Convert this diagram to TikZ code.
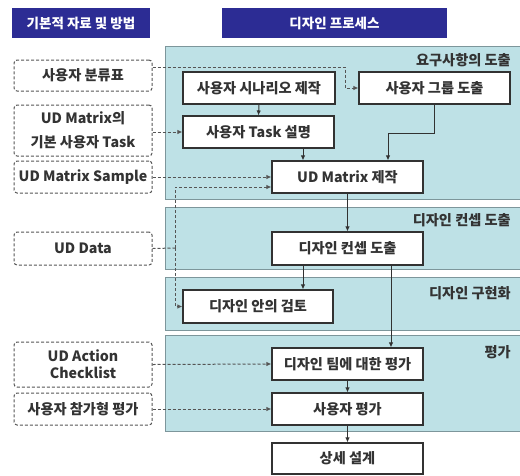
\documentclass[tikz,border=0pt]{standalone}
\usepackage{fontspec}
\setmainfont{Noto Sans CJK KR}
\usetikzlibrary{arrows.meta,calc}
\definecolor{hdrblue}{RGB}{44,44,148}
\definecolor{panelfill}{RGB}{190,225,230}
\definecolor{panelline}{RGB}{125,150,155}
\definecolor{boxline}{RGB}{50,50,50}
\definecolor{dashline}{RGB}{85,85,85}
\tikzset{
  txt/.style={font=\bfseries\fontsize{14.2}{17}\selectfont, text=black!80},
  hdr/.style={fill=hdrblue, draw=none, text=white, font=\bfseries\fontsize{13.5}{16}\selectfont, inner sep=0pt},
  panel/.style={fill=panelfill, draw=panelline, line width=0.9pt},
  plabel/.style={txt, anchor=east, inner sep=0pt},
  pbox/.style={txt, draw=boxline, fill=white, line width=1.1pt, inner sep=0pt, minimum width=151pt},
  dbox/.style={txt, draw=dashline, fill=white, dashed, dash pattern=on 3pt off 2pt, line width=1pt, rounded corners=3pt, inner sep=0pt, minimum width=138pt, align=center},
  sline/.style={draw=boxline, line width=1pt, -{Latex[length=5pt,width=4.5pt]}},
  dline/.style={draw=dashline, line width=1pt, dash pattern=on 3pt off 2pt},
  darr/.style={dline, -{Latex[length=5pt,width=4.5pt]}}
}
\begin{document}
\begin{tikzpicture}[x=1pt,y=-1pt]
\useasboundingbox (0,0) rectangle (520,475);
% headers
\node[hdr, minimum width=138pt, minimum height=30pt] (h1) at (81,23) {기본적 자료 및 방법};
\node[hdr, minimum width=225pt, minimum height=30pt] (h2) at (334.5,23) {디자인 프로세스};
% panels
\draw[panel] (165,46) rectangle (523,199);
\draw[panel] (165,207) rectangle (523,269);
\draw[panel] (165,277) rectangle (523,330);
\draw[panel] (165,335) rectangle (523,431);
\node[plabel] (l1) at (511,60) {요구사항의 도출};
\node[plabel] (l2) at (511,220) {디자인 컨셉 도출};
\node[plabel] (l3) at (511,293) {디자인 구현화};
\node[plabel] (l4) at (511,352) {평가};
% left dashed boxes
\node[dbox, minimum height=31pt] (cls) at (83,75.5) {사용자 분류표};
\node[dbox, minimum height=51pt] (task0) at (83,130.5) {UD Matrix의\\[7pt]기본 사용자 Task};
\node[dbox, minimum height=32pt] (sample) at (83,177) {UD Matrix Sample};
\node[dbox, minimum height=33pt] (data) at (83,248.5) {UD Data};
\node[dbox, minimum height=45pt] (check) at (83,364.5) {UD Action\\Checklist};
\node[dbox, minimum height=32pt] (part) at (83,409) {사용자 참가형 평가};
% process boxes
\node[pbox, minimum height=32pt, minimum width=152pt] (scen) at (259,88) {사용자 시나리오 제작};
\node[pbox, minimum height=32pt] (group) at (434.5,88) {사용자 그룹 도출};
\node[pbox, minimum height=32pt] (tdesc) at (258.5,132) {사용자 Task 설명};
\node[pbox, minimum height=32pt] (udm) at (347.5,177) {UD Matrix 제작};
\node[pbox, minimum height=33pt] (concept) at (347.5,248.5) {디자인 컨셉 도출};
\node[pbox, minimum height=33pt, minimum width=150pt] (review) at (258,306.5) {디자인 안의 검토};
\node[pbox, minimum height=32pt] (team) at (347.5,364) {디자인 팀에 대한 평가};
\node[pbox, minimum height=32pt] (ueval) at (347.5,409) {사용자 평가};
\node[pbox, minimum height=31pt] (detail) at (347.5,458.5) {상세 설계};
% helper coordinates
\coordinate (k1) at (345,67);
\coordinate (k2) at (303,0);
\coordinate (k3) at (388,133);
\coordinate (k5) at (391,0);
\coordinate (j) at (175,248);
\coordinate (jt) at (175,187);
% dashed connectors
\draw[darr] (cls.east|-k1) -- (k1) |- (group.west);
\draw[darr] (task0.east|-tdesc.west) -- (tdesc.west);
\draw[darr] (sample.east) -- (udm.west);
\draw[dline] (data.east) -- (j);
\draw[darr] (j) -- (jt) -- (udm.west|-jt);
\draw[darr] (j) |- (review.west);
\draw[darr] (check.east) -- (team.west);
\draw[darr] (part.east) -- (ueval.west);
% solid connectors
\draw[sline] (scen.south) -- (tdesc.north);
\draw[sline] (tdesc.south-|k2) -- (udm.north-|k2);
\draw[sline] (group.south) |- (k3) -- (k3|-udm.north);
\draw[sline] (udm.south) -- (concept.north);
\draw[sline] (concept.south-|k2) -- (review.north-|k2);
\draw[sline] (concept.south-|k5) -- (team.north-|k5);
\draw[sline] (team.south) -- (ueval.north);
\draw[sline] (ueval.south) -- (detail.north);
\end{tikzpicture}
\end{document}
